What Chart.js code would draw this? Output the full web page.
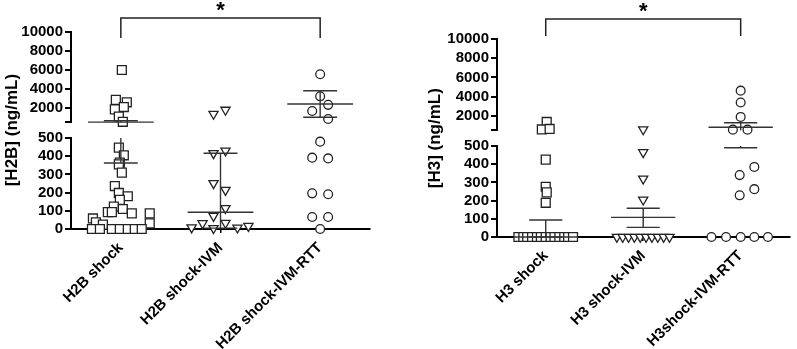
<!DOCTYPE html>
<html>
<head>
<meta charset="utf-8">
<script src="https://cdn.jsdelivr.net/npm/chart.js@4.4.0/dist/chart.umd.min.js"></script>
<style>
  body { margin: 0; background: #fff; width: 797px; height: 349px; position: relative; overflow: hidden; }
  #h2bChart { position: absolute; left: 0; top: 0; }
  #h3Chart { position: absolute; left: 420px; top: 0; }
</style>
</head>
<body>
<canvas id="h2bChart" width="400" height="349"></canvas>
<canvas id="h3Chart" width="377" height="349"></canvas>
<script>
// ---- data ----
const BREAK = 500;
const upperTicks = [500, 2000, 4000, 6000, 8000, 10000];
const lowerTicks = [0, 100, 200, 300, 400, 500];

const h2bGroups = ["H2B shock", "H2B shock-IVM", "H2B shock-IVM-RTT"];
const h3Groups = ["H3 shock", "H3 shock-IVM", "H3shock-IVM-RTT"];

// values (ng/mL) and horizontal jitter (in category units) for each point
const h2bShock = [6000, 2850, 2600, 2100, 1850, 1100, 550,
  447, 405, 365, 355, 310, 236, 198, 180, 160, 123, 110, 93, 93, 86, 86, 58, 37, 24, 31,
  0, 0, 0, 0, 0, 0, 0];
const h2bShockX = [0.01, -0.05, 0.06, 0.03, -0.06, -0.02, 0.02,
  -0.02, 0.03, -0.01, -0.02, 0.01, -0.06, -0.02, 0.07, -0.01, -0.07, 0.02, -0.13, -0.09, 0.11, 0.29, -0.28, -0.25, -0.18, 0.29,
  -0.29, -0.21, -0.09, -0.01, 0.07, 0.14, 0.21];

const h2bIvm = [1370, 1800, 416, 430, 251, 214, 114, 71, 31, 33, 16, 8, 4, 7];
const h2bIvmX = [-0.07, 0.05, -0.07, 0.05, -0.07, 0.05, 0.05, -0.07, -0.18, 0.05, 0.28, -0.29, -0.07, 0.17];

const h2bRtt = [5550, 3230, 2330, 1680, 840, 480, 392, 388, 196, 191, 66, 66, 0];
const h2bRttX = [0, 0, 0.08, -0.08, 0.08, 0, -0.08, 0.08, -0.08, 0.08, -0.08, 0.08, 0];

const h2bCenter = [510, 92, 2420];
const h2bUpper = [660, 416, 3820];
const h2bLower = [363, 5, 1020];

const h3Shock = [1380, 600, 650, 425, 276, 245, 188,
  0, 0, 0, 0, 0, 0, 0, 0, 0, 0, 0, 0, 0];
const h3ShockX = [0.01, -0.04, 0.04, 0, 0, 0.01, 0,
  -0.28, -0.23, -0.19, -0.14, -0.09, -0.05, 0, 0.05, 0.09, 0.14, 0.19, 0.23, 0.28];

const h3Ivm = [600, 465, 320, 205, 0, 0, 0, 0, 0, 0, 0, 0, 0, 0];
const h3IvmX = [0, 0, 0, 0, -0.27, -0.21, -0.15, -0.09, -0.03, 0.03, 0.09, 0.15, 0.21, 0.27];

const h3Rtt = [4630, 3400, 1900, 580, 580, 385, 340, 263, 229, 0, 0, 0, 0, 0];
const h3RttX = [0, 0, 0, -0.08, 0.07, 0.14, -0.01, 0.14, -0.01, -0.3, -0.15, 0, 0.14, 0.28];

const h3Center = [0, 108, 830];
const h3Upper = [93, 158, 1300];
const h3Lower = [0, 53, 490];

// ---- helpers ----
Chart.defaults.font.family = "'Liberation Sans', Arial, sans-serif";
Chart.defaults.color = "#000";

function pts(vals, xs, group, top) {
  const out = [];
  vals.forEach((v, i) => {
    if ((v >= BREAK) === top) out.push({ x: group + xs[i], y: v });
  });
  return out;
}

function groupSets(vals, xs, group, style) {
  const base = {
    pointStyle: style.shape,
    rotation: style.rotation || 0,
    pointRadius: style.r,
    pointBackgroundColor: "#fff",
    pointBorderColor: "#222",
    pointBorderWidth: 1.3,
    clip: false
  };
  return [
    Object.assign({ data: pts(vals, xs, group, true), yAxisID: "yTop" }, base),
    Object.assign({ data: pts(vals, xs, group, false), yAxisID: "yBot" }, base)
  ];
}

const errorBars = {
  id: "errorBars",
  afterDatasetsDraw(chart, args, o) {
    const { ctx, scales } = chart;
    const x = scales.x, yTop = scales.yTop, yBot = scales.yBot;
    const yPix = v => v >= BREAK ? yTop.getPixelForValue(v) : yBot.getPixelForValue(v);
    ctx.save();
    ctx.strokeStyle = "#333";
    ctx.lineWidth = 1.4;
    const line = (x1, y1, x2, y2) => {
      ctx.beginPath(); ctx.moveTo(x1, y1); ctx.lineTo(x2, y2); ctx.stroke();
    };
    const hline = (g, v, w) => line(x.getPixelForValue(g - w), yPix(v), x.getPixelForValue(g + w), yPix(v));
    o.center.forEach((c, g) => {
      const lo = o.lower[g], hi = o.upper[g], px = x.getPixelForValue(g);
      hline(g, c, 0.33);
      hline(g, hi, 0.17);
      hline(g, lo, 0.17);
      if (lo < BREAK && hi >= BREAK) {
        line(px, yBot.getPixelForValue(lo), px, yBot.top);
        line(px, yTop.bottom, px, yTop.getPixelForValue(hi));
      } else {
        line(px, yPix(lo), px, yPix(hi));
      }
    });
    // significance bracket
    const b = o.bracket;
    const x1 = x.getPixelForValue(b.from), x2 = x.getPixelForValue(b.to);
    ctx.strokeStyle = "#222";
    ctx.lineWidth = 1.5;
    ctx.beginPath();
    ctx.moveTo(x1, b.y + b.drop); ctx.lineTo(x1, b.y); ctx.lineTo(x2, b.y); ctx.lineTo(x2, b.y + b.drop);
    ctx.stroke();
    ctx.fillStyle = "#000";
    ctx.font = "bold 22px 'Liberation Sans', Arial, sans-serif";
    ctx.textAlign = "center";
    ctx.textBaseline = "alphabetic";
    ctx.fillText("*", (x1 + x2) / 2, b.y - 1);
    ctx.restore();
  }
};

function makeChart(id, cfg) {
  const axisW = cfg.axisW;
  const yCommon = {
    type: "linear",
    position: "left",
    stack: "y",
    afterFit: s => { s.width = axisW; },
    border: { display: true, color: "#000", width: 2 },
    grid: { display: true, drawOnChartArea: false, drawTicks: true, tickLength: 6, color: "#000", lineWidth: 2 },
    ticks: { autoSkip: false, padding: 2, font: { size: 15, weight: "bold" }, color: "#000" }
  };
  return new Chart(document.getElementById(id), {
    type: "scatter",
    data: {
      datasets: [
        ...groupSets(cfg.sets[0], cfg.xs[0], 0, { shape: "rect", r: 6.3 }),
        ...groupSets(cfg.sets[1], cfg.xs[1], 1, { shape: "triangle", r: 5.3, rotation: 180 }),
        ...groupSets(cfg.sets[2], cfg.xs[2], 2, { shape: "circle", r: 4.4 })
      ]
    },
    options: {
      responsive: false,
      animation: false,
      events: [],
      layout: { padding: cfg.padding },
      plugins: {
        legend: { display: false },
        tooltip: { enabled: false },
        errorBars: { center: cfg.center, upper: cfg.upper, lower: cfg.lower, bracket: cfg.bracket }
      },
      scales: {
        x: {
          type: "linear",
          min: -0.5,
          max: 2.5,
          afterBuildTicks: s => { s.ticks = [0, 1, 2].map(v => ({ value: v })); },
          afterFit: s => { s.height = cfg.xH; },
          border: { display: true, color: "#000", width: 2 },
          grid: { display: true, drawOnChartArea: false, drawTicks: true, tickLength: 4, color: "#000", lineWidth: 1.5 },
          ticks: {
            autoSkip: false,
            minRotation: 45,
            maxRotation: 45,
            padding: 6,
            font: { size: 15, weight: "bold" },
            color: "#000",
            callback: v => cfg.groups[v]
          }
        },
        // stacked y axes: listed bottom first, the layout places the last one on top
        yBot: Object.assign({}, yCommon, {
          min: 0,
          max: BREAK,
          stackWeight: cfg.weights[2],
          afterBuildTicks: s => { s.ticks = lowerTicks.map(v => ({ value: v })); },
          ticks: Object.assign({}, yCommon.ticks, { callback: v => String(v) })
        }),
        yGap: {
          type: "linear",
          position: "left",
          stack: "y",
          stackWeight: cfg.weights[1],
          min: 0,
          max: 1,
          afterFit: s => { s.width = axisW; },
          border: { display: false },
          grid: { display: false },
          ticks: { display: false },
          title: {
            display: true,
            text: cfg.title,
            color: "#000",
            padding: { top: cfg.titlePad, bottom: 0 },
            font: { size: 17, weight: "bold" }
          }
        },
        yTop: Object.assign({}, yCommon, {
          min: BREAK,
          max: 10000,
          stackWeight: cfg.weights[0],
          afterBuildTicks: s => { s.ticks = upperTicks.map(v => ({ value: v })); },
          ticks: Object.assign({}, yCommon.ticks, { callback: v => v === BREAK ? "" : String(v) })
        })
      }
    },
    plugins: [errorBars]
  });
}

makeChart("h2bChart", {
  groups: h2bGroups,
  title: "[H2B] (ng/mL)",
  titlePad: 2,
  sets: [h2bShock, h2bIvm, h2bRtt],
  xs: [h2bShockX, h2bIvmX, h2bRttX],
  center: h2bCenter, upper: h2bUpper, lower: h2bLower,
  axisW: 71, xH: 120,
  weights: [90.25, 15.75, 91],
  padding: { top: 32, right: 30, bottom: 0, left: 0 },
  bracket: { from: 0, to: 2, y: 18, drop: 20 }
});

makeChart("h3Chart", {
  groups: h3Groups,
  title: "[H3] (ng/mL)",
  titlePad: 5,
  sets: [h3Shock, h3Ivm, h3Rtt],
  xs: [h3ShockX, h3IvmX, h3RttX],
  center: h3Center, upper: h3Upper, lower: h3Lower,
  axisW: 77, xH: 112,
  weights: [91.4, 15.6, 91],
  padding: { top: 39, right: 0, bottom: 0, left: 0 },
  bracket: { from: 0, to: 2, y: 19, drop: 17 }
});
</script>
</body>
</html>
